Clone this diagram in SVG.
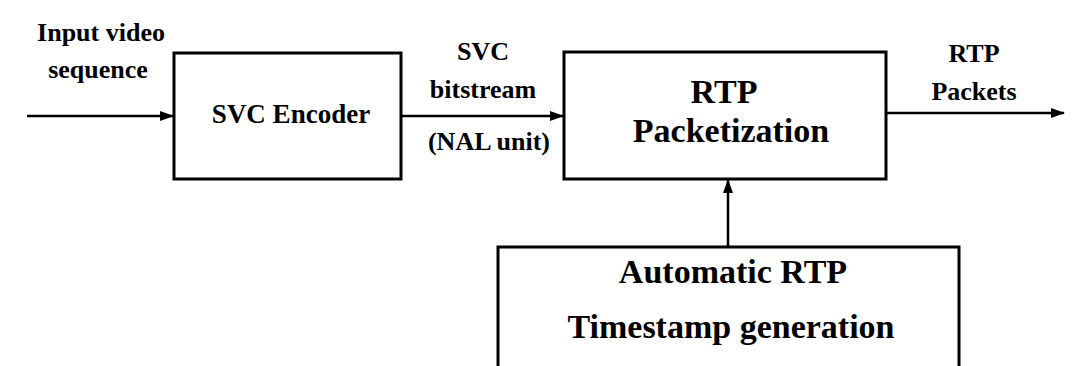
<svg xmlns="http://www.w3.org/2000/svg" width="1077" height="366" viewBox="0 0 1077 366">
<style>
text{font-family:"Liberation Serif","Times New Roman",serif;font-weight:bold;fill:#000;text-anchor:middle}
.s{font-size:26px}
.m{font-size:27px}
.l{font-size:34px}
.box{fill:#fff;stroke:#000;stroke-width:3}
.ln{stroke:#000;stroke-width:2.5;fill:none}
</style>
<defs>
<marker id="ah" markerWidth="14" markerHeight="10" refX="13" refY="5" orient="auto" markerUnits="userSpaceOnUse">
<path d="M0,0 L14,5 L0,10 Z" fill="#000"/>
</marker>
</defs>
<g id="connectors">
<line class="ln" x1="27" y1="116" x2="173" y2="116" marker-end="url(#ah)"/>
<line class="ln" x1="402" y1="116" x2="563" y2="116" marker-end="url(#ah)"/>
<line class="ln" x1="887" y1="113" x2="1064" y2="113" marker-end="url(#ah)"/>
<line class="ln" x1="728" y1="248" x2="728" y2="180" marker-end="url(#ah)"/>
<text class="s" x="101" y="41">Input video</text>
<text class="s" x="98" y="78">sequence</text>
<text class="s" x="483" y="60">SVC</text>
<text class="s" x="483" y="98">bitstream</text>
<text class="s" x="489" y="150">(NAL unit)</text>
<text class="s" x="974" y="62">RTP</text>
<text class="s" x="974" y="100">Packets</text>
</g>
<g id="svc-encoder">
<rect class="box" x="174" y="53" width="227" height="126"/>
<text class="m" x="291" y="123">SVC Encoder</text>
</g>
<g id="rtp-packetization">
<rect class="box" x="564" y="52" width="322" height="127"/>
<text class="l" x="724" y="103">RTP</text>
<text class="l" x="731" y="142">Packetization</text>
</g>
<g id="timestamp-generation">
<rect class="box" x="498" y="247" width="461" height="140"/>
<text class="l" x="733" y="283">Automatic RTP</text>
<text class="l" x="731" y="338">Timestamp generation</text>
</g>
</svg>
